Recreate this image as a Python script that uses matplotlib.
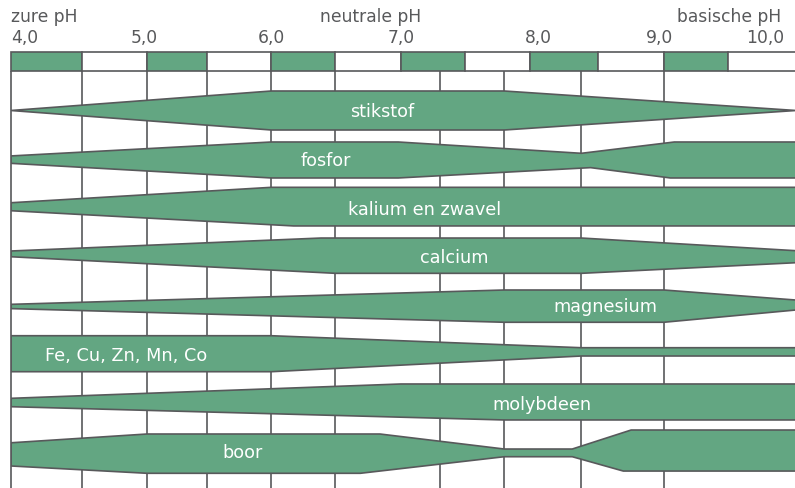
import matplotlib
matplotlib.use("Agg")
import matplotlib.pyplot as plt
from matplotlib.patches import Rectangle
import matplotlib.transforms as mtransforms

# ---------------- data ----------------
nutrients = ["stikstof", "fosfor", "kalium en zwavel", "calcium",
             "magnesium", "Fe, Cu, Zn, Mn, Co", "molybdeen", "boor"]

# (pH, half-width above centre) and (pH, half-width below centre), relative availability
stikstof_top = [(4.0, 0.0), (5.99, 1.0), (7.77, 1.0), (10.0, 0.0)]
stikstof_bot = [(4.0, 0.0), (5.99, 1.0), (7.77, 1.0), (10.0, 0.0)]
fosfor_top = [(4.0, 0.17), (5.99, 0.885), (6.96, 0.885), (8.36, 0.305), (9.07, 0.885), (10.0, 0.885)]
fosfor_bot = [(4.0, 0.21), (5.99, 0.96), (6.96, 0.96), (8.43, 0.43), (9.04, 0.96), (10.0, 0.96)]
kalium_top = [(4.0, 0.27), (5.99, 1.06), (10.0, 1.06)]
kalium_bot = [(4.0, 0.14), (6.16, 0.92), (10.0, 0.92)]
calcium_top = [(4.0, 0.295), (6.37, 0.96), (8.36, 0.96), (10.0, 0.31)]
calcium_bot = [(4.0, 0.0), (6.48, 0.85), (8.36, 0.85), (10.0, 0.305)]
magnesium_top = [(4.0, 0.06), (7.77, 0.795), (8.99, 0.795), (10.0, 0.28)]
magnesium_bot = [(4.0, 0.16), (7.77, 0.86), (8.99, 0.86), (10.0, 0.23)]
sporen_top = [(4.0, 0.95), (5.99, 0.95), (8.36, 0.335), (10.0, 0.335)]
sporen_bot = [(4.0, 0.895), (5.99, 0.895), (8.36, 0.09), (10.0, 0.09)]
molybdeen_top = [(4.0, 0.24), (6.98, 0.975), (10.0, 0.975)]
molybdeen_bot = [(4.0, 0.19), (7.77, 0.87), (10.0, 0.87)]
boor_top = [(4.0, 0.46), (5.04, 0.91), (6.82, 0.91), (7.77, 0.14), (8.29, 0.14), (8.74, 1.115), (10.0, 1.115)]
boor_bot = [(4.0, 0.73), (5.04, 1.105), (6.67, 1.105), (7.77, 0.255), (8.29, 0.255), (8.68, 0.99), (10.0, 0.99)]

band_tops = [stikstof_top, fosfor_top, kalium_top, calcium_top,
             magnesium_top, sporen_top, molybdeen_top, boor_top]
band_bots = [stikstof_bot, fosfor_bot, kalium_bot, calcium_bot,
             magnesium_bot, sporen_bot, molybdeen_bot, boor_bot]

label_ph = [6.835, 6.41, 7.16, 7.39, 8.54, 4.26, 8.06, 5.77]
label_ha = ["center", "center", "center", "center", "center", "left", "center", "center"]

scale_edges = [4.0, 4.54, 5.04, 5.50, 5.99, 6.48, 6.98, 7.47, 7.97, 8.49, 8.99, 9.48, 10.0]
grid_ph = [4.54, 5.04, 5.50, 5.99, 6.48, 7.28, 7.77, 8.36, 8.99]

tick_labels = ["4,0", "5,0", "6,0", "7,0", "8,0", "9,0", "10,0"]
tick_pos = [4.0, 5.02, 5.99, 6.98, 8.03, 8.96, 9.91]
tick_ha = ["left", "center", "center", "center", "center", "center", "right"]

zone_labels = ["zure pH", "neutrale pH", "basische pH"]
zone_pos = [4.0, 6.75, 9.89]
zone_ha = ["left", "center", "right"]

# ---------------- style ----------------
GREEN = "#63a682"
LINE = "#58595b"
TEXT = "#58595b"
LW = 1.2
FONT = "DejaVu Sans"

W, H = 795, 488
fig = plt.figure(figsize=(W / 100, H / 100), dpi=100)
fig.patch.set_facecolor("white")


def px_axes(x0, y0, x1, y1):
    return fig.add_axes([x0 / W, 1 - y1 / H, (x1 - x0) / W, (y1 - y0) / H])


# scale bar
ax_bar = px_axes(11, 52, 796, 71)
ax_bar.set_xlim(4.0, 10.0)
ax_bar.set_ylim(0, 1)
ax_bar.axis("off")
for i in range(len(scale_edges) - 1):
    ax_bar.add_patch(Rectangle((scale_edges[i], 0), scale_edges[i + 1] - scale_edges[i], 1,
                               facecolor=GREEN if i % 2 == 0 else "white",
                               edgecolor=LINE, lw=LW, clip_on=False, zorder=2))

trans_top = mtransforms.blended_transform_factory(ax_bar.transData, fig.transFigure)
for lab, pos, ha in zip(zone_labels, zone_pos, zone_ha):
    fig.text(pos, 1 - 22 / H, lab, transform=trans_top, ha=ha, va="baseline",
             fontsize=12.3, color=TEXT, family=FONT)
for lab, pos, ha in zip(tick_labels, tick_pos, tick_ha):
    fig.text(pos, 1 - 42.7 / H, lab, transform=trans_top, ha=ha, va="baseline",
             fontsize=12.3, color=TEXT, family=FONT)

# main chart
UNIT = 19.5  # px per availability unit
ax = px_axes(11, 71, 796, 488)
ax.set_xlim(4.0, 10.0)
ax.set_ylim((488 - 71) / UNIT, 0)
ax.axis("off")

ymax = (488 - 71) / UNIT
ax.vlines(grid_ph, 0, ymax, color=LINE, lw=LW, zorder=1)
ax.vlines([4.0], 0, ymax, color=LINE, lw=LW, zorder=4, clip_on=False)

first_center = (110.5 - 71) / UNIT
pitch = 2.5
for i, (name, top, bot) in enumerate(zip(nutrients, band_tops, band_bots)):
    c = first_center + pitch * i
    xs = [p for p, _ in top] + [p for p, _ in reversed(bot)]
    ys = [c - v for _, v in top] + [c + v for _, v in reversed(bot)]
    ax.fill(xs, ys, facecolor=GREEN, edgecolor=LINE, lw=LW, zorder=2, joinstyle="miter")
    ax.annotate(name, xy=(label_ph[i], c), xytext=(0, -4.7), textcoords="offset points",
                ha=label_ha[i], va="baseline", color="white", fontsize=12.7,
                family=FONT, zorder=5)

fig.savefig("out.png", dpi=100, facecolor="white")
